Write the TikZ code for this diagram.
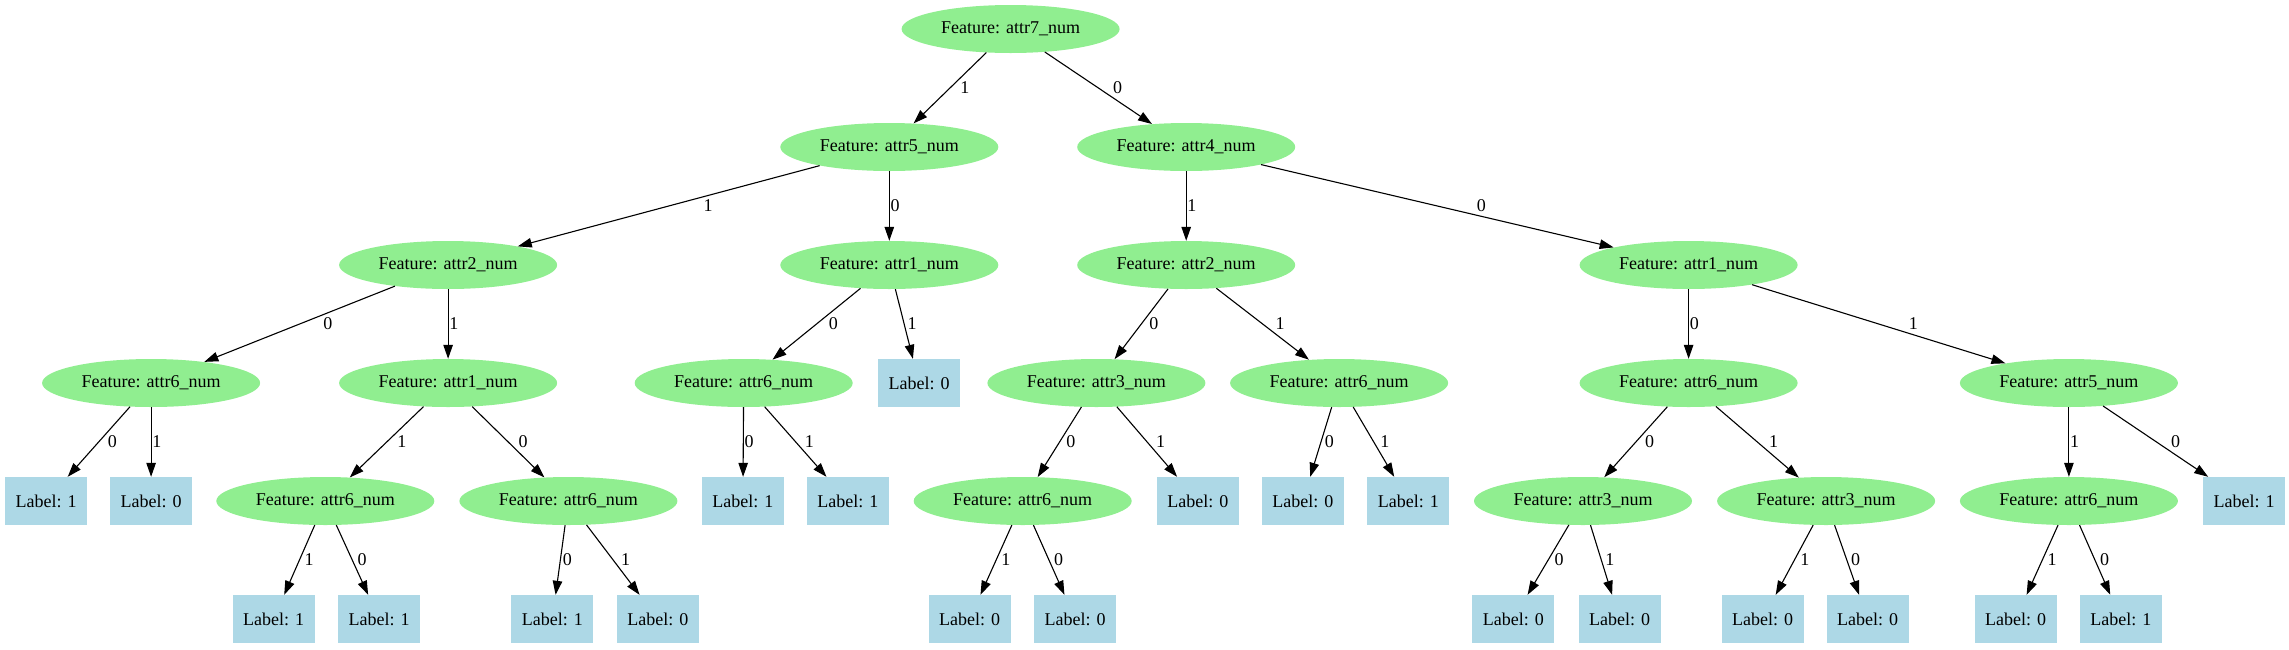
\documentclass[tikz,border=0pt]{standalone}
\usepackage{fontspec}
\setmainfont{Liberation Serif}
\usepackage{tikz}
\usetikzlibrary{arrows.meta,shapes.geometric,calc}
\definecolor{split-green}{HTML}{90EE90}
\definecolor{leaf-blue}{HTML}{ADD8E6}

\tikzset{
  feature/.style={ellipse,fill=split-green,minimum width=218pt,minimum height=48pt,inner sep=0pt},
  leaf/.style={rectangle,fill=leaf-blue,minimum width=82pt,minimum height=48pt,inner sep=0pt},
  branch/.style={-{Triangle[length=14pt,width=9.5pt]},line width=1.1pt},
  branchlabel/.style={anchor=west,inner sep=1pt}
}

% edge from parent to child, value written right of its middle
\newcommand{\treebranch}[3]{%
  \draw[branch] (#1) -- (#2);
  \path let \p1=(#1.center), \p2=(#2.center),
    \n1={abs(\x2-\x1)/abs(\y2-\y1)*9} in
    ($(\p1)!0.5!(\p2)$) ++(\n1,0) node[branchlabel] {#3};
}

\begin{document}
\begin{tikzpicture}[x=1pt,y=-1pt,font=\fontsize{18}{21}\selectfont]
  \useasboundingbox (0,0) rectangle (2289,649);

  % splits
  \node[feature] (root) at (1010.6,29) {Feature: attr7\_num};
  \node[feature] (a5)  at (889.3,147)  {Feature: attr5\_num};
  \node[feature] (a4)  at (1186.2,147) {Feature: attr4\_num};
  \node[feature] (a2l) at (448.1,265)  {Feature: attr2\_num};
  \node[feature] (a1m) at (889.3,265)  {Feature: attr1\_num};
  \node[feature] (a2r) at (1186.2,265) {Feature: attr2\_num};
  \node[feature] (a1r) at (1688.6,265) {Feature: attr1\_num};
  \node[feature] (a6a) at (151.1,383)  {Feature: attr6\_num};
  \node[feature] (a1a) at (448.1,383)  {Feature: attr1\_num};
  \node[feature] (a6b) at (743.7,383)  {Feature: attr6\_num};
  \node[feature] (a3a) at (1096.4,383) {Feature: attr3\_num};
  \node[feature] (a6c) at (1339.1,383) {Feature: attr6\_num};
  \node[feature] (a6d) at (1688.6,383) {Feature: attr6\_num};
  \node[feature] (a5a) at (2068.9,383) {Feature: attr5\_num};
  \node[feature] (a6e) at (325.3,501)  {Feature: attr6\_num};
  \node[feature] (a6f) at (568.4,501)  {Feature: attr6\_num};
  \node[feature] (a6g) at (1022.7,501) {Feature: attr6\_num};
  \node[feature] (a3b) at (1583.0,501) {Feature: attr3\_num};
  \node[feature] (a3c) at (1826.1,501) {Feature: attr3\_num};
  \node[feature] (a6h) at (2068.9,501) {Feature: attr6\_num};

  % leaves
  \node[leaf] (l0a) at (919.0,383)  {Label: 0};
  \node[leaf] (l1a) at (46.2,501)   {Label: 1};
  \node[leaf] (l0b) at (151.1,501)  {Label: 0};
  \node[leaf] (l1b) at (742.9,501)  {Label: 1};
  \node[leaf] (l1c) at (847.8,501)  {Label: 1};
  \node[leaf] (l0c) at (1197.9,501) {Label: 0};
  \node[leaf] (l0d) at (1302.8,501) {Label: 0};
  \node[leaf] (l1d) at (1408.4,501) {Label: 1};
  \node[leaf] (l1e) at (2244.1,501) {Label: 1};
  \node[leaf] (l1f) at (273.6,619)  {Label: 1};
  \node[leaf] (l1g) at (379.2,619)  {Label: 1};
  \node[leaf] (l1h) at (552.3,619)  {Label: 1};
  \node[leaf] (l0e) at (657.9,619)  {Label: 0};
  \node[leaf] (l0f) at (969.6,619)  {Label: 0};
  \node[leaf] (l0g) at (1075.2,619) {Label: 0};
  \node[leaf] (l0h) at (1513.3,619) {Label: 0};
  \node[leaf] (l0i) at (1619.6,619) {Label: 0};
  \node[leaf] (l0j) at (1762.7,619) {Label: 0};
  \node[leaf] (l0k) at (1867.5,619) {Label: 0};
  \node[leaf] (l0l) at (2015.7,619) {Label: 0};
  \node[leaf] (l1i) at (2120.9,619) {Label: 1};

  % branches
  \foreach \from/\to/\val in {root/a5/1, root/a4/0,
      a5/a2l/1, a5/a1m/0, a4/a2r/1, a4/a1r/0,
      a2l/a6a/0, a2l/a1a/1, a1m/a6b/0, a1m/l0a/1,
      a2r/a3a/0, a2r/a6c/1, a1r/a6d/0, a1r/a5a/1,
      a6a/l1a/0, a6a/l0b/1, a1a/a6e/1, a1a/a6f/0,
      a6b/l1b/0, a6b/l1c/1, a3a/a6g/0, a3a/l0c/1,
      a6c/l0d/0, a6c/l1d/1, a6d/a3b/0, a6d/a3c/1,
      a5a/a6h/1, a5a/l1e/0,
      a6e/l1f/1, a6e/l1g/0, a6f/l1h/0, a6f/l0e/1,
      a6g/l0f/1, a6g/l0g/0, a3b/l0h/0, a3b/l0i/1,
      a3c/l0j/1, a3c/l0k/0, a6h/l0l/1, a6h/l1i/0}
    {\treebranch{\from}{\to}{\val}}
\end{tikzpicture}
\end{document}
